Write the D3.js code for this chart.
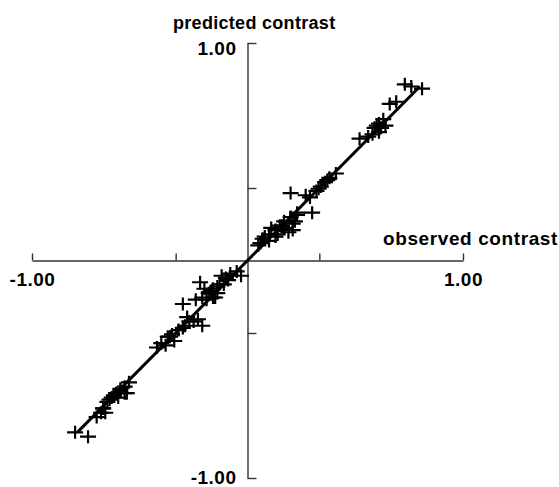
<!DOCTYPE html>
<html>
<head>
<meta charset="utf-8">
<script src="https://cdn.jsdelivr.net/npm/d3@7"></script>
<style>
  body { margin: 0; background: #fff; }
  svg text { font-family: "Liberation Sans", Arial, Helvetica, sans-serif; font-weight: bold; fill: #000; }
  .axis path, .axis line { stroke: #333; stroke-width: 1.4; }
</style>
</head>
<body>
<div id="chart"></div>
<script>
	// observed vs predicted contrast, one cross per stimulus
	var observed = [
		0.73, 0.76, 0.81, 0.66, 0.69, 0.59, 0.61, 0.58, 0.64, 0.61, 0.56, 0.52, 0.63, 0.60, 0.62,
		0.41, 0.38, 0.36, 0.34, 0.32, 0.29, 0.20, 0.30, 0.33, 0.37, 0.27,
		0.23, 0.20, 0.17, 0.15, 0.13, 0.10, 0.08, 0.06, 0.19, 0.21, 0.14, 0.17, 0.22, 0.10,
		0.07, 0.11, 0.16, 0.21, 0.23, 0.13, 0.05,
		-0.05, -0.08, -0.10, -0.13, -0.16, -0.18, -0.21, -0.22, -0.19, -0.16, -0.14, -0.24, -0.30, -0.03,
		-0.09, -0.11, -0.14, -0.17, -0.12, -0.20, -0.15,
		-0.23, -0.27, -0.29, -0.32, -0.35, -0.37, -0.40, -0.42, -0.34, -0.21,
		-0.25, -0.30, -0.36, -0.38, -0.28,
		-0.55, -0.57, -0.59, -0.61, -0.63, -0.60, -0.57, -0.65, -0.67, -0.68, -0.70, -0.66,
		-0.62, -0.59, -0.64, -0.67, -0.56,
		-0.80, -0.74
	];
	var predicted = [
		0.81, 0.80, 0.79, 0.72, 0.73, 0.61, 0.63, 0.58, 0.62, 0.59, 0.57, 0.56, 0.65, 0.62, 0.61,
		0.40, 0.38, 0.36, 0.34, 0.32, 0.29, 0.31, 0.22, 0.33, 0.37, 0.30,
		0.22, 0.20, 0.18, 0.16, 0.14, 0.12, 0.11, 0.08, 0.13, 0.14, 0.12, 0.15, 0.18, 0.09,
		0.10, 0.15, 0.16, 0.17, 0.21, 0.11, 0.07,
		-0.05, -0.06, -0.08, -0.11, -0.13, -0.15, -0.17, -0.10, -0.18, -0.17, -0.15, -0.18, -0.20, -0.07,
		-0.09, -0.11, -0.12, -0.14, -0.07, -0.13, -0.17,
		-0.27, -0.28, -0.30, -0.32, -0.34, -0.35, -0.38, -0.40, -0.37, -0.30,
		-0.28, -0.31, -0.35, -0.39, -0.26,
		-0.56, -0.58, -0.60, -0.61, -0.63, -0.63, -0.61, -0.65, -0.68, -0.70, -0.72, -0.70,
		-0.62, -0.59, -0.64, -0.68, -0.61,
		-0.79, -0.81
	];
	// fitted line y = x, drawn over the range of the data
	var fitX = [-0.79, 0.80];

	var tickVals = [-1, -1/3, 1/3, 1];
	var tickLabels = {"-1": "-1.00", "1": "1.00"};

	var width = 559;
	var height = 487;

	var svg = d3.select("#chart").append("svg")
		.attr("width", width)
		.attr("height", height);

	var x = d3.scaleLinear().domain([-1, 1]).range([32, 463]);
	var y = d3.scaleLinear().domain([-1, 1]).range([478, 43]);

	var fmt = function(d) { return tickLabels[Math.round(d * 3) / 3] || ""; };

	// horizontal axis through y = 0, ticks pointing up
	var xAxis = svg.append("g")
		.attr("class", "axis")
		.attr("transform", "translate(0," + y(0) + ")")
		.call(d3.axisBottom(x)
			.tickValues(tickVals)
			.tickSizeInner(-7)
			.tickSizeOuter(0)
			.tickPadding(12)
			.tickFormat(fmt));

	// vertical axis through x = 0, ticks pointing right, labels on the left
	var yAxis = svg.append("g")
		.attr("class", "axis")
		.attr("transform", "translate(" + x(0) + ",0)")
		.call(d3.axisLeft(y)
			.tickValues(tickVals)
			.tickSizeInner(-9)
			.tickSizeOuter(0)
			.tickPadding(11)
			.tickFormat(fmt));

	svg.selectAll(".axis text")
		.style("font-size", "19px")
		.style("letter-spacing", "0.5px");
	// top label sits a little below its tick, bottom one a little above
	yAxis.selectAll("text")
		.attr("dy", function(d) { return d > 0 ? "0.62em" : "0.3em"; });

	svg.append("text")
		.attr("x", 173)
		.attr("y", 29)
		.style("font-size", "18px")
		.style("letter-spacing", "0.3px")
		.text("predicted contrast");

	svg.append("text")
		.attr("x", 383)
		.attr("y", 245)
		.style("font-size", "19px")
		.style("letter-spacing", "0.6px")
		.text("observed contrast");

	// regression line
	svg.append("line")
		.attr("x1", x(fitX[0]))
		.attr("y1", y(fitX[0]))
		.attr("x2", x(fitX[1]))
		.attr("y2", y(fitX[1]))
		.attr("stroke", "#000")
		.attr("stroke-width", 3);

	var points = observed.map(function(d, i) { return {obs: d, pred: predicted[i]}; });

	svg.append("g")
		.selectAll("path")
		.data(points)
		.enter()
		.append("path")
		.attr("d", "M-8,0H8M0,-6.5V6.5")
		.attr("transform", function(d) { return "translate(" + x(d.obs) + "," + y(d.pred) + ")"; })
		.attr("stroke", "#000")
		.attr("stroke-width", 2.2)
		.attr("fill", "none");
</script>
</body>
</html>
